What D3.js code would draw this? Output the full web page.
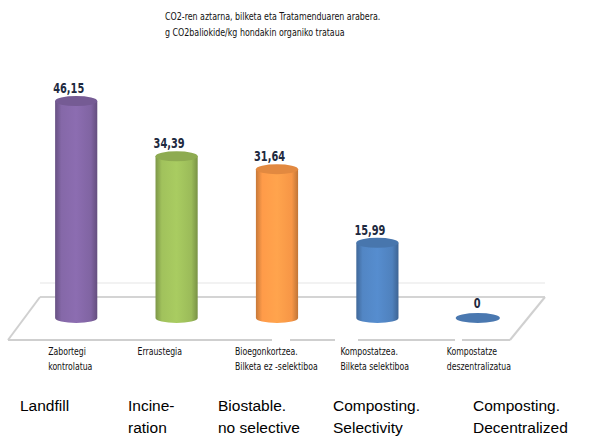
<!DOCTYPE html>
<html><head><meta charset="utf-8">
<script src="https://cdn.jsdelivr.net/npm/d3@7"></script>
<style>
html,body{margin:0;padding:0;background:#fff;}
svg{display:block;}
</style></head>
<body>
<svg id="chart" width="608" height="440"></svg>
<script>
const categories = ["Landfill","Incineration","Biostable","CompostSel","CompostDec"];
const values = [46.15, 34.39, 31.64, 15.99, 0];
const valueLabels = ["46,15","34,39","31,64","15,99","0"];
const basqueLabels = [["Zabortegi","kontrolatua"],["Erraustegia"],["Bioegonkortzea.","Bilketa ez -selektiboa"],["Kompostatzea.","Bilketa selektiboa"],["Kompostatze","deszentralizatua"]];
const englishLabels = [["Landfill"],["Incine-","ration"],["Biostable.","no selective"],["Composting.","Selectivity"],["Composting.","Decentralized"]];
const colors = ["#8064a2","#9bbb59","#f79646","#4f81bd","#4f81bd"];
const titleLines = ["CO2-ren aztarna, bilketa eta Tratamenduaren arabera.","g CO2baliokide/kg hondakin organiko trataua"];

const svg = d3.select("#chart");
const x = d3.scaleBand().domain(categories).range([26, 528]).paddingInner(0.58).paddingOuter(0.29);
const y = d3.scaleLinear().domain([0, 50]).range([318, 83]);
const narrow = "'DejaVu Sans Condensed','DejaVu Sans',sans-serif";

function narrowText(parent, tx, ty, sx, size, txt, opts = {}) {
  return parent.append("text")
    .attr("transform", `translate(${tx},${ty}) scale(${sx},1)`)
    .attr("font-family", narrow)
    .attr("font-size", size)
    .attr("font-weight", opts.weight || "normal")
    .attr("fill", opts.fill || "#111")
    .text(txt);
}

const defs = svg.append("defs");
colors.forEach((c, i) => {
  const g = defs.append("linearGradient").attr("id", "g" + i).attr("x1", 0).attr("x2", 1).attr("y1", 0).attr("y2", 0);
  const base = d3.color(c);
  g.append("stop").attr("offset", "0%").attr("stop-color", base.darker(0.6));
  g.append("stop").attr("offset", "15%").attr("stop-color", base.brighter(0.1));
  g.append("stop").attr("offset", "50%").attr("stop-color", base.brighter(0.25));
  g.append("stop").attr("offset", "85%").attr("stop-color", base);
  g.append("stop").attr("offset", "100%").attr("stop-color", base.darker(0.7));
});

// floor
const floor = svg.append("g");
floor.append("line").attr("x1", 40).attr("y1", 283).attr("x2", 545).attr("y2", 283).attr("stroke", "#f2f2f2").attr("stroke-width", 2);
floor.append("line").attr("x1", 40).attr("y1", 297).attr("x2", 545).attr("y2", 297).attr("stroke", "#d4d4d4").attr("stroke-width", 2);
floor.append("line").attr("x1", 40).attr("y1", 297).attr("x2", 8).attr("y2", 340).attr("stroke", "#d0d0d0").attr("stroke-width", 2);
floor.append("line").attr("x1", 545).attr("y1", 297).attr("x2", 510).attr("y2", 340).attr("stroke", "#d0d0d0").attr("stroke-width", 2);
[[8, 272], [290, 335], [358, 455], [462, 510]].forEach(s => {
  floor.append("line").attr("x1", s[0]).attr("y1", 340).attr("x2", s[1]).attr("y2", 340).attr("stroke", "#cfcfcf").attr("stroke-width", 2);
});

// bars
const ry = 5;
const bars = svg.append("g").selectAll("g").data(categories).join("g");
bars.each(function(d, i) {
  const g = d3.select(this);
  const cx = x(d) + x.bandwidth() / 2;
  const rx = x.bandwidth() / 2;
  const top = y(values[i]);
  const bottom = y(0);
  const base = d3.color(colors[i]);
  if (values[i] > 0) {
    g.append("path")
      .attr("d", `M${cx - rx},${top} L${cx - rx},${bottom} A${rx},${ry} 0 0 0 ${cx + rx},${bottom} L${cx + rx},${top} Z`)
      .attr("fill", `url(#g${i})`);
    g.append("ellipse").attr("cx", cx).attr("cy", top).attr("rx", rx).attr("ry", ry)
      .attr("fill", base.darker(0.25));
    narrowText(g, cx - 23, top - 8, 0.78, 14, valueLabels[i], {weight: 600, fill: "#1e2a40"});
  } else {
    g.append("ellipse").attr("cx", cx).attr("cy", bottom).attr("rx", rx + 1).attr("ry", ry)
      .attr("fill", base.darker(0.2));
    narrowText(g, cx - 4, bottom - 10, 0.78, 14, valueLabels[i], {weight: 600, fill: "#1e2a40"});
  }
});

// title
const tg = svg.append("g");
titleLines.forEach((t, i) => narrowText(tg, 165, 20 + i * 16, 0.8, 11, t));

// Basque labels
const bOffsets = [-28, -39, -42, -37, -31];
const bg = svg.append("g");
categories.forEach((c, i) => {
  const cx = x(c) + x.bandwidth() / 2;
  basqueLabels[i].forEach((t, j) => narrowText(bg, cx + bOffsets[i], 355 + j * 15, 0.82, 10.5, t));
});

// English labels
const eX = [20, 128, 218, 333, 473];
categories.forEach((c, i) => {
  englishLabels[i].forEach((t, j) => {
    svg.append("text").attr("x", eX[i]).attr("y", 411 + j * 22)
      .attr("font-family", "'Liberation Sans',Arial,sans-serif")
      .attr("font-size", 15.5).attr("fill", "#000").text(t);
  });
});
</script>
</body></html>
